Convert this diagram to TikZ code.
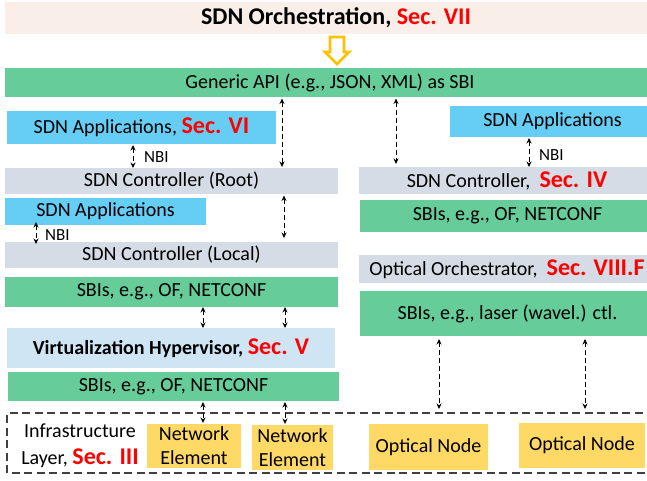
\documentclass[tikz,border=0pt]{standalone}
\usepackage{fontspec}
\setmainfont{Carlito}
\usetikzlibrary{arrows.meta}
\definecolor{pinkbg}{HTML}{FAEEE8}
\definecolor{sbigreen}{HTML}{66CC99}
\definecolor{appblue}{HTML}{66CEF5}
\definecolor{ctlgrey}{HTML}{D6DCE5}
\definecolor{hypblue}{HTML}{CFE5F3}
\definecolor{nodeyellow}{HTML}{FFD966}
\definecolor{arrowgold}{HTML}{FFC000}
\definecolor{secred}{HTML}{FF0000}
\newcommand{\secref}[1]{{\fontsize{24}{28}\selectfont\bfseries\color{secred}#1}}
\begin{document}
\begin{tikzpicture}[x=1pt,y=-1pt]
\tikzset{
  box/.style={inner sep=0pt, outer sep=0pt, align=center, text=black,
    font=\fontsize{20}{24}\selectfont},
  dar/.style={dash pattern=on 5pt off 3pt, line width=0.8pt,
    {Stealth[length=5.5pt,width=5pt]}-{Stealth[length=5.5pt,width=5pt]}},
  nbilabel/.style={font=\fontsize{17}{20}\selectfont, anchor=west, inner sep=0pt},
  infraline/.style={dash pattern=on 8pt off 4.5pt, line width=1.2pt, draw=black!75},
}
\useasboundingbox (0,0) rectangle (647,480);

% top
\node[box, fill=pinkbg, minimum width=650pt, minimum height=32pt] (title) at (330,18) {};
\node[inner sep=0pt, font=\fontsize{24}{28}\selectfont\bfseries] (titletext) at (title.center -| 336,0)
  {SDN Orchestration, \secref{Sec. VII}};
\draw[arrowgold, line width=2.6pt, line join=miter] (330,37) -- (344,37) -- (344,52) -- (349,52)
  -- (337,64) -- (325,52) -- (330,52) -- cycle;
\node[box, fill=sbigreen, minimum width=650pt, minimum height=29pt] (api) at (330,82.5)
  {Generic API (e.g., JSON, XML) as SBI};

% left column
\node[box, fill=appblue, minimum width=269pt, minimum height=33pt] (app1) at (141.5,127.5)
  {SDN Applications, \secref{Sec. VI}};
\node[box, fill=ctlgrey, minimum width=333pt, minimum height=26pt] (root) at (171.5,181)
  {SDN Controller (Root)};
\node[box, fill=appblue, minimum width=201pt, minimum height=27pt] (app2) at (105.5,211.5)
  {SDN Applications};
\node[box, fill=ctlgrey, minimum width=333pt, minimum height=26pt] (local) at (171.5,255)
  {SDN Controller (Local)};
\node[box, fill=sbigreen, minimum width=333pt, minimum height=30pt] (sbi1) at (171.5,292)
  {SBIs, e.g., OF, NETCONF};
\node[box, fill=hypblue, minimum width=328pt, minimum height=40pt] (hyp) at (171,348)
  {\bfseries Virtualization Hypervisor, \secref{Sec. V}};
\node[box, fill=sbigreen, minimum width=331pt, minimum height=29pt] (sbi2) at (173.5,386.5)
  {SBIs, e.g., OF, NETCONF};

% right column
\node[box, fill=appblue, minimum width=205pt, minimum height=31pt] (app3) at (552.5,121.5)
  {SDN Applications};
\node[box, fill=ctlgrey, minimum width=296pt, minimum height=27pt] (ctlr) at (507,180.5)
  {SDN Controller,\ \ \secref{Sec. IV}};
\node[box, fill=sbigreen, minimum width=295pt, minimum height=32pt] (sbi3) at (507.5,216)
  {SBIs, e.g., OF, NETCONF};
\node[box, fill=ctlgrey, minimum width=296pt, minimum height=28pt] (optorch) at (507,269)
  {Optical Orchestrator,\ \ \secref{Sec. VIII.F}};
\node[box, fill=sbigreen, minimum width=295pt, minimum height=45pt] (sbi4) at (507.5,313.5)
  {SBIs, e.g., laser (wavel.) ctl.};

% infrastructure layer
\coordinate (infTL) at (7,413);
\coordinate (infBL) at (7,473);
\coordinate (infTR) at (655,413);
\coordinate (infBR) at (655,473);
\draw[infraline] (infTR) -- (infTL) -- (infBL) -- (infBR);
\node[box, font=\fontsize{20}{27}\selectfont] (infra) at (80,446)
  {Infrastructure\\Layer, \secref{Sec. III}};
\node[box, fill=nodeyellow, minimum width=94pt, minimum height=44pt] (ne1) at (194,446)
  {Network\\Element};
\node[box, fill=nodeyellow, minimum width=81pt, minimum height=45pt] (ne2) at (292.5,447.5)
  {Network\\Element};
\node[box, fill=nodeyellow, minimum width=119pt, minimum height=46pt] (on1) at (428.5,447)
  {Optical Node};
\node[box, fill=nodeyellow, minimum width=126pt, minimum height=45pt] (on2) at (582,445.5)
  {Optical Node};

% connector columns
\coordinate (colA) at (282,0);
\coordinate (colB) at (284,0);
\coordinate (colC) at (396,0);
\coordinate (colN1) at (133,0);
\coordinate (colN2) at (36,0);
\coordinate (colN3) at (529,0);
\coordinate (colS1) at (203,0);
\coordinate (colS2) at (285,0);
\coordinate (colO1) at (439,0);
\coordinate (colO2) at (585,0);

% connectors
\draw[dar, shorten <=1.5pt, shorten >=1pt] (api.south -| colA) -- (root.north -| colA);
\draw[dar, shorten <=1.5pt, shorten >=4pt] (root.south -| colB) -- (local.north -| colB);
\draw[dar, shorten <=1.5pt, shorten >=3pt] (api.south -| colC) -- (ctlr.north -| colC);
\draw[dar, shorten <=1pt] (app1.south -| colN1) -- (root.north -| colN1);
\node[nbilabel] (nbi1) at (144,157) {NBI};
\draw[dar, shorten <=-3pt, shorten >=-2pt] (app2.south -| colN2) -- (local.north -| colN2);
\node[nbilabel] (nbi2) at (45,235) {NBI};
\draw[dar, shorten <=1pt] (app3.south -| colN3) -- (ctlr.north -| colN3);
\node[nbilabel] (nbi3) at (539,155) {NBI};
\draw[dar] (sbi1.south -| colS1) -- (hyp.north -| colS1);
\draw[dar] (sbi1.south -| colS2) -- (hyp.north -| colS2);
\draw[dar, shorten <=1pt, shorten >=1pt] (sbi2.south -| colS1) -- (ne1.north -| colS1);
\draw[dar, shorten <=1pt, shorten >=1pt] (sbi2.south -| colS2) -- (ne2.north -| colS2);
\draw[dar, shorten <=3pt, shorten >=4pt] (sbi4.south -| colO1) -- (infTL -| colO1);
\draw[dar, shorten <=3pt, shorten >=4pt] (sbi4.south -| colO2) -- (infTL -| colO2);
\end{tikzpicture}
\end{document}
